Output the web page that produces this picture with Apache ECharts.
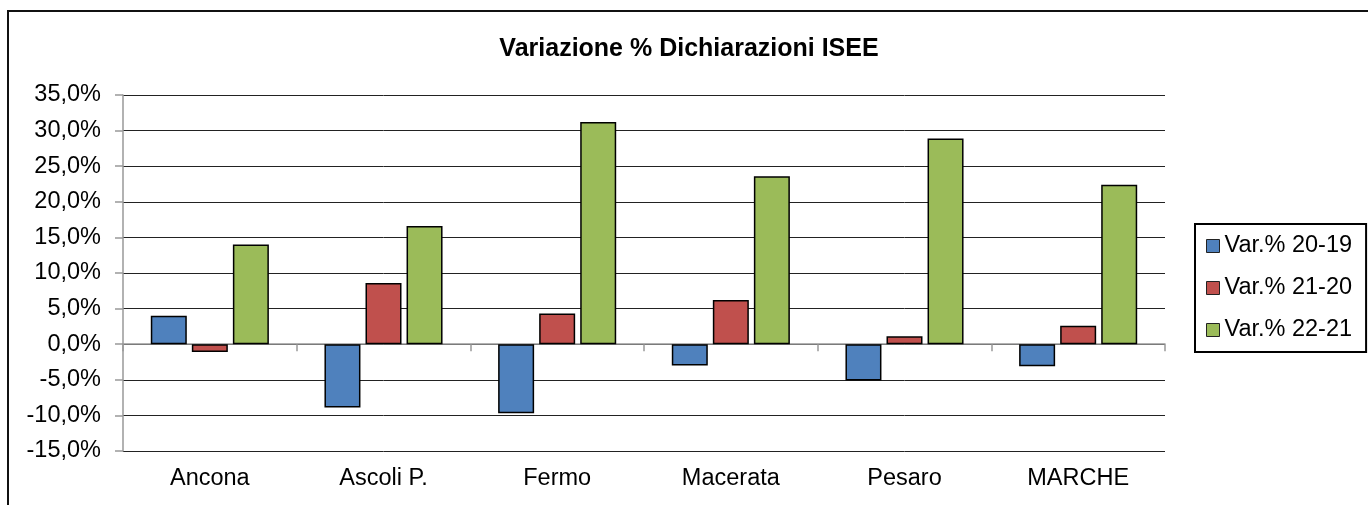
<!DOCTYPE html>
<html>
<head>
<meta charset="utf-8">
<script src="https://cdn.jsdelivr.net/npm/echarts@6/dist/echarts.min.js"></script>
<style>
  html, body { margin: 0; padding: 0; background: #fff; }
  #chart { width: 1368px; height: 505px; }
</style>
</head>
<body>
<div id="chart"></div>
<script>
var categories = ['Ancona', 'Ascoli P.', 'Fermo', 'Macerata', 'Pesaro', 'MARCHE'];
var seriesNames = ['Var.% 20-19', 'Var.% 21-20', 'Var.% 22-21'];
var var2019 = [4.0, -8.9, -9.7, -3.0, -5.1, -3.1];
var var2120 = [-1.1, 8.6, 4.3, 6.2, 1.1, 2.6];
var var2221 = [14.0, 16.6, 31.2, 23.6, 28.9, 22.4];
var colors = ['#4F81BD', '#C0504D', '#9BBB59'];

var font = 'Liberation Sans, Arial, sans-serif';
var chart = echarts.init(document.getElementById('chart'));

function pct(v) {
    return v.toFixed(1).replace('.', ',') + '%';
}

function barSeries(name, data, color) {
    return {
        name: name,
        type: 'bar',
        data: data,
        barWidth: 36,
        barGap: '14%',
        xAxisIndex: 0,
        itemStyle: { color: color, borderColor: '#000', borderWidth: 1.5 }
    };
}

chart.setOption({
    animation: false,
    textStyle: { fontFamily: font },
    title: {
        text: 'Variazione % Dichiarazioni ISEE',
        left: 684, textAlign: 'center',
        top: 32,
        textStyle: { fontSize: 25, fontWeight: 'bold', color: '#000', fontFamily: font }
    },
    graphic: [{
        type: 'rect',
        shape: { x: 8, y: 11, width: 1400, height: 600 },
        style: { fill: 'none', stroke: '#111', lineWidth: 2 },
        silent: true
    }],
    legend: {
        orient: 'vertical',
        left: 1195, top: 224,
        padding: [10, 14, 10, 11],
        borderColor: '#000', borderWidth: 2,
        itemWidth: 13, itemHeight: 13,
        itemGap: 18,
        icon: 'rect',
        itemStyle: { borderColor: '#222', borderWidth: 1 },
        textStyle: { fontSize: 23.5, color: '#000', fontFamily: font, lineHeight: 24 },
        data: seriesNames
    },
    grid: { left: 123, right: 203, top: 95, bottom: 54 },
    xAxis: [{
        type: 'category',
        data: categories,
        axisLine: { show: false, onZero: false },
        axisTick: { show: false },
        axisLabel: { fontSize: 23.5, color: '#000', margin: 16, fontFamily: font }
    }, {
        type: 'category',
        data: categories,
        position: 'bottom',
        axisLine: { show: true, onZero: true, lineStyle: { color: '#999', width: 1.5 } },
        axisTick: { show: true, length: 7, lineStyle: { color: '#999', width: 1.5 } },
        axisLabel: { show: false }
    }],
    yAxis: {
        type: 'value',
        min: -15, max: 35, interval: 5,
        axisLine: { show: true, lineStyle: { color: '#999', width: 1.5 } },
        axisTick: { show: true, length: 8, lineStyle: { color: '#999', width: 1.5 } },
        splitLine: { show: true, lineStyle: { color: '#222', width: 1 } },
        axisLabel: { fontSize: 23.5, color: '#000', margin: 22, formatter: pct, fontFamily: font }
    },
    series: [
        barSeries(seriesNames[0], var2019, colors[0]),
        barSeries(seriesNames[1], var2120, colors[1]),
        barSeries(seriesNames[2], var2221, colors[2])
    ]
});
</script>
</body>
</html>
